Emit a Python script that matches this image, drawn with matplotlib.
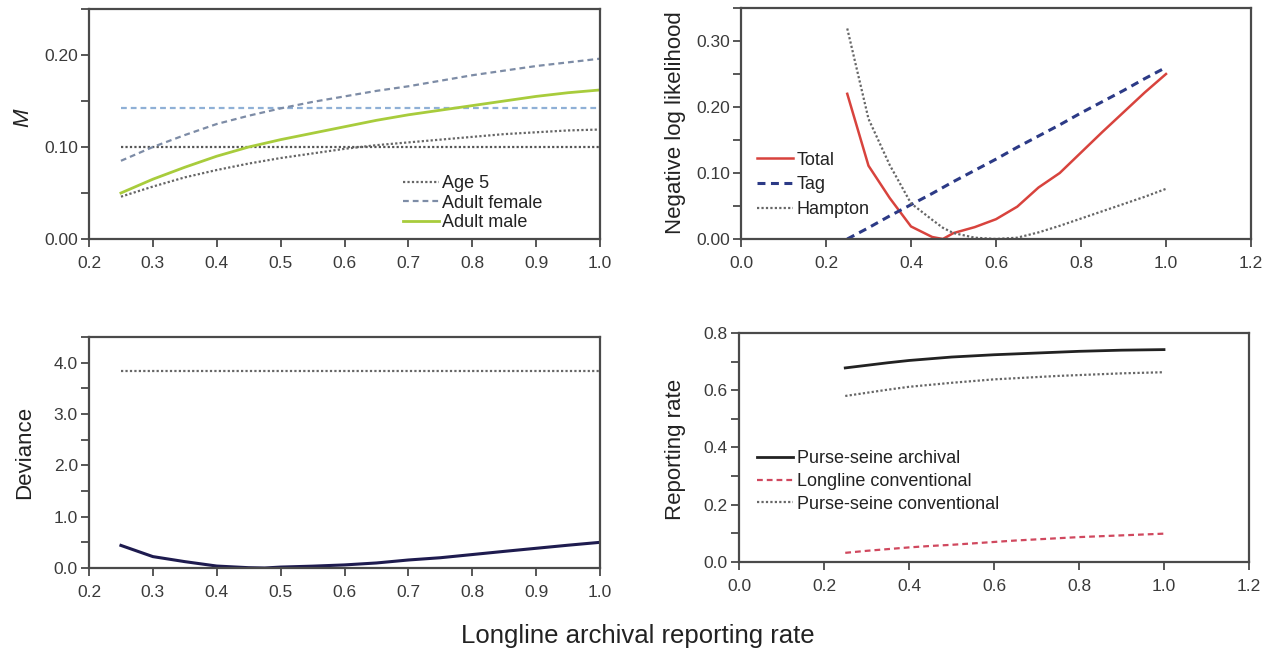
import matplotlib
matplotlib.use("Agg")
import matplotlib.pyplot as plt
from matplotlib.ticker import MultipleLocator, FormatStrFormatter

plt.rcParams['font.family'] = ['Liberation Sans', 'DejaVu Sans']

# ---- data -------------------------------------------------------------
# longline archival reporting rate grid
rate = [0.25, 0.30, 0.35, 0.40, 0.45, 0.50, 0.55, 0.60, 0.65, 0.70,
        0.75, 0.80, 0.85, 0.90, 0.95, 1.00]
rate_fine = [0.25, 0.30, 0.35, 0.40, 0.45, 0.475, 0.50, 0.55, 0.60, 0.65,
             0.70, 0.75, 0.80, 0.85, 0.90, 0.95, 1.00]

# natural mortality M
m_age5 = [0.046, 0.057, 0.067, 0.075, 0.082, 0.088, 0.093, 0.098, 0.102,
          0.105, 0.108, 0.111, 0.114, 0.116, 0.118, 0.119]
m_female = [0.085, 0.100, 0.113, 0.125, 0.134, 0.142, 0.149, 0.155, 0.161,
            0.166, 0.172, 0.178, 0.183, 0.188, 0.192, 0.196]
m_male = [0.050, 0.065, 0.078, 0.090, 0.100, 0.108, 0.115, 0.122, 0.129,
          0.135, 0.140, 0.145, 0.150, 0.155, 0.159, 0.162]
m_age5_ref = 0.100
m_female_ref = 0.142

# negative log likelihood components
nll_total = [0.220, 0.111, 0.062, 0.019, 0.003, 0.000, 0.009, 0.018, 0.030,
             0.049, 0.078, 0.100, 0.131, 0.162, 0.192, 0.222, 0.250]
nll_tag = [0.000, 0.017, 0.035, 0.052, 0.069, 0.078, 0.087, 0.104, 0.121,
           0.139, 0.156, 0.173, 0.191, 0.208, 0.225, 0.243, 0.260]
nll_hampton = [0.319, 0.182, 0.112, 0.054, 0.029, 0.017, 0.009, 0.002, 0.000,
               0.002, 0.010, 0.020, 0.031, 0.042, 0.053, 0.064, 0.076]

# deviance and chi-square cut-off
deviance = [0.440, 0.222, 0.124, 0.038, 0.006, 0.000, 0.018, 0.036, 0.060,
            0.098, 0.156, 0.200, 0.262, 0.324, 0.384, 0.444, 0.500]
chi_sq_cut = 3.84

# estimated reporting rates
rr_ps_archival = [0.678, 0.687, 0.696, 0.704, 0.710, 0.716, 0.720, 0.724,
                  0.727, 0.730, 0.733, 0.736, 0.738, 0.740, 0.741, 0.742]
rr_ll_conventional = [0.032, 0.039, 0.045, 0.051, 0.056, 0.060, 0.065, 0.070,
                      0.075, 0.079, 0.083, 0.087, 0.090, 0.093, 0.096, 0.099]
rr_ps_conventional = [0.580, 0.591, 0.602, 0.612, 0.619, 0.626, 0.632, 0.638,
                      0.642, 0.646, 0.650, 0.653, 0.656, 0.659, 0.661, 0.663]

# ---- figure -----------------------------------------------------------
W, H = 1270, 651
fig = plt.figure(figsize=(W / 100, H / 100), dpi=100)

SPINE = '#4a4a4a'
TICKC = '#3a3a3a'
DOT = (0, (1, 1))
DASH = (0, (2.6, 1.8))


def px_axes(x0, y0, x1, y1):
    return fig.add_axes([x0 / W, 1 - y1 / H, (x1 - x0) / W, (y1 - y0) / H])


def style(ax, xlim, xmaj, xfmt, ylim, ymaj, ymin, yfmt):
    ax.set_xlim(*xlim)
    ax.set_ylim(*ylim)
    ax.xaxis.set_major_locator(MultipleLocator(xmaj))
    ax.xaxis.set_major_formatter(FormatStrFormatter(xfmt))
    ax.yaxis.set_major_locator(MultipleLocator(ymaj))
    ax.yaxis.set_minor_locator(MultipleLocator(ymin))
    ax.yaxis.set_major_formatter(FormatStrFormatter(yfmt))
    for s in ax.spines.values():
        s.set_color(SPINE)
        s.set_linewidth(1.6)
    ax.tick_params(which='both', direction='out', length=6, width=1.3,
                   color=SPINE, labelcolor=TICKC, labelsize=12.5)
    ax.tick_params(axis='x', pad=6)
    ax.tick_params(axis='y', pad=2)


def legend(ax, x, y, spacing):
    leg = ax.legend(loc='upper left', bbox_to_anchor=(x, y), frameon=False,
                    fontsize=13, handlelength=2.0, handletextpad=0.2,
                    labelspacing=spacing, borderpad=0, borderaxespad=0)
    for t in leg.get_texts():
        t.set_color('#222222')


# top-left: natural mortality
ax1 = px_axes(89, 9, 600, 239)
ax1.hlines(m_age5_ref, rate[0], rate[-1], color='#555555', lw=1.6, ls=DOT)
ax1.hlines(m_female_ref, rate[0], rate[-1], color='#8fb0d6', lw=1.6, ls=DASH)
ax1.plot(rate, m_age5, color='#666666', lw=1.6, ls=DOT, label='Age 5')
ax1.plot(rate, m_female, color='#7d8ca6', lw=1.6, ls=DASH, label='Adult female')
ax1.plot(rate, m_male, color='#a8cc3c', lw=2.0, label='Adult male')
style(ax1, (0.2, 1.0), 0.1, '%.1f', (0, 0.25), 0.10, 0.05, '%.2f')
legend(ax1, 0.614, 0.278, 0.15)

# top-right: negative log likelihood
ax2 = px_axes(741, 8, 1251, 239)
ax2.plot(rate_fine, nll_total, color='#d8433d', lw=1.8, label='Total')
ax2.plot(rate_fine, nll_tag, color='#2c3a86', lw=2.2, ls=DASH, label='Tag')
ax2.plot(rate_fine, nll_hampton, color='#666666', lw=1.6, ls=DOT, label='Hampton')
style(ax2, (0.0, 1.2), 0.2, '%.1f', (0, 0.35), 0.10, 0.05, '%.2f')
legend(ax2, 0.031, 0.378, 0.42)

# bottom-left: deviance
ax3 = px_axes(89, 337, 600, 568)
ax3.hlines(chi_sq_cut, rate_fine[0], rate_fine[-1], color='#666666', lw=1.6, ls=DOT)
ax3.plot(rate_fine, deviance, color='#1e1b4f', lw=2.2)
style(ax3, (0.2, 1.0), 0.1, '%.1f', (0, 4.5), 1.0, 0.5, '%.1f')

# bottom-right: reporting rates
ax4 = px_axes(739, 333, 1249, 562)
ax4.plot(rate, rr_ps_archival, color='#222222', lw=2.0, label='Purse-seine archival')
ax4.plot(rate, rr_ll_conventional, color='#d0485e', lw=1.6, ls=DASH,
         label='Longline conventional')
ax4.plot(rate, rr_ps_conventional, color='#666666', lw=1.6, ls=DOT,
         label='Purse-seine conventional')
style(ax4, (0.0, 1.2), 0.2, '%.1f', (0, 0.8), 0.2, 0.1, '%.1f')
legend(ax4, 0.035, 0.488, 0.32)

# axis titles
fig.text(23 / W, 1 - 118 / H, 'M', rotation=90, style='italic', fontsize=16,
         ha='center', va='center', color='#222222')
fig.text(675 / W, 1 - 123 / H, 'Negative log likelihood', rotation=90,
         fontsize=16, ha='center', va='center', color='#222222')
fig.text(25 / W, 1 - 452 / H, 'Deviance', rotation=90, fontsize=16,
         ha='center', va='center', color='#222222')
fig.text(675 / W, 1 - 449 / H, 'Reporting rate', rotation=90, fontsize=16,
         ha='center', va='center', color='#222222')
fig.text(638 / W, 1 - 636 / H, 'Longline archival reporting rate',
         fontsize=18.5, ha='center', va='center', color='#222222')

fig.savefig('out.png', dpi=100)
